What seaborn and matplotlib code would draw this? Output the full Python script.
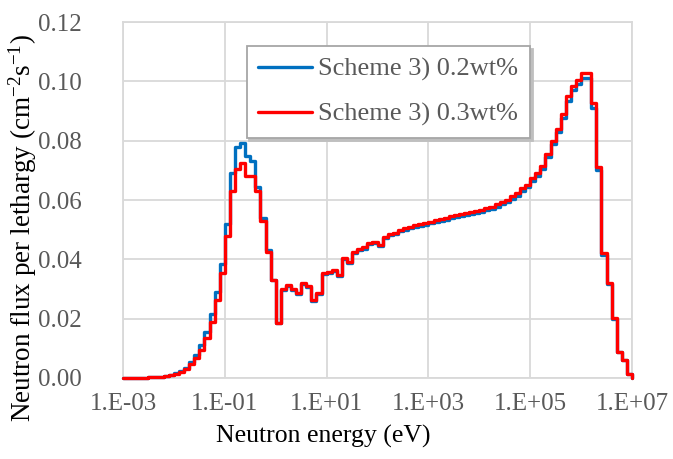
import numpy as np
import pandas as pd
import matplotlib
matplotlib.use("Agg")
import matplotlib.pyplot as plt
import seaborn as sns
from matplotlib.ticker import FuncFormatter, FixedLocator, NullLocator

# 100 equal-lethargy energy groups, 1e-3 eV .. 1e7 eV
group_edges = np.logspace(-3, 7, 101)

series_names = ["Scheme 3) 0.2wt%", "Scheme 3) 0.3wt%"]

flux_02 = [
    0.0, 0.0, 0.0, 0.0, 0.0001, 0.0002, 0.0003, 0.0005, 0.0007, 0.0011,
    0.0016, 0.0025, 0.0035, 0.0054, 0.0078, 0.0110, 0.0155, 0.0215, 0.0290, 0.0385,
    0.0520, 0.0690, 0.0778, 0.0793, 0.0750, 0.0732, 0.0645, 0.0540, 0.0430, 0.0332,
    0.0185, 0.0298, 0.0310, 0.0297, 0.0284, 0.0317, 0.0307, 0.0259, 0.0282, 0.0350,
    0.0353, 0.0361, 0.0343, 0.0400, 0.0386, 0.0421, 0.0431, 0.0436, 0.0451, 0.0454,
    0.0446, 0.0471, 0.0481, 0.0486, 0.0494, 0.0500, 0.0505, 0.0510, 0.0514, 0.0517,
    0.0521, 0.0525, 0.0529, 0.0534, 0.0538, 0.0542, 0.0546, 0.0550, 0.0553, 0.0556,
    0.0561, 0.0565, 0.0571, 0.0578, 0.0585, 0.0594, 0.0604, 0.0614, 0.0631, 0.0643,
    0.0665, 0.0680, 0.0706, 0.0744, 0.0788, 0.0828, 0.0876, 0.0935, 0.0970, 0.0990,
    0.1010, 0.1010, 0.0910, 0.0700, 0.0415, 0.0316, 0.0200, 0.0087, 0.0059, 0.0015,
]

flux_03 = [
    0.0, 0.0, 0.0, 0.0, 0.0001, 0.0002, 0.0003, 0.0004, 0.0006, 0.0009,
    0.0014, 0.0021, 0.0030, 0.0046, 0.0066, 0.0096, 0.0135, 0.0190, 0.0262, 0.0355,
    0.0480, 0.0630, 0.0705, 0.0724, 0.0680, 0.0682, 0.0630, 0.0530, 0.0425, 0.0330,
    0.0185, 0.0300, 0.0313, 0.0300, 0.0287, 0.0320, 0.0310, 0.0263, 0.0286, 0.0354,
    0.0357, 0.0365, 0.0347, 0.0404, 0.0390, 0.0425, 0.0435, 0.0440, 0.0455, 0.0458,
    0.0450, 0.0475, 0.0485, 0.0490, 0.0499, 0.0505, 0.0510, 0.0515, 0.0519, 0.0522,
    0.0527, 0.0531, 0.0535, 0.0540, 0.0545, 0.0549, 0.0553, 0.0557, 0.0560, 0.0563,
    0.0568, 0.0572, 0.0578, 0.0585, 0.0592, 0.0601, 0.0612, 0.0622, 0.0640, 0.0652,
    0.0674, 0.0690, 0.0716, 0.0755, 0.0800, 0.0840, 0.0890, 0.0950, 0.0985, 0.1005,
    0.1028, 0.1028, 0.0927, 0.0711, 0.0421, 0.0320, 0.0202, 0.0088, 0.0060, 0.0015,
]

x_ticks = [1e-3, 1e-1, 1e1, 1e3, 1e5, 1e7]
y_ticks = [0.00, 0.02, 0.04, 0.06, 0.08, 0.10, 0.12]

# long table for seaborn, last edge closes the step down to 0
rows = []
for name, flux in zip(series_names, [flux_02, flux_03]):
    vals = list(flux) + [0.0]
    for e, v in zip(group_edges, vals):
        rows.append({"energy": e, "flux": v, "series": name})
df = pd.DataFrame(rows)

sns.set_style("white")
plt.rcParams["font.family"] = ["Liberation Serif", "DejaVu Serif"]
plt.rcParams["mathtext.fontset"] = "custom"
plt.rcParams["mathtext.rm"] = "Liberation Serif"
plt.rcParams["mathtext.it"] = "Liberation Serif:italic"

fig = plt.figure(figsize=(6.73, 4.59), dpi=100)
ax = fig.add_axes([0.1828, 0.1765, 0.7563, 0.7755])

sns.lineplot(
    data=df, x="energy", y="flux", hue="series",
    hue_order=series_names,
    palette=["#0070C0", "#FF0000"],
    drawstyle="steps-post", linewidth=2.4,
    estimator=None, sort=False, ax=ax,
)
for i, ln in enumerate(ax.get_lines()):
    ln.set_clip_on(False)
    ln.set_zorder(3 + i)

ax.set_xscale("log")
ax.set_xlim(1e-3, 1e7)
ax.set_ylim(0, 0.12)
ax.xaxis.set_major_locator(FixedLocator(x_ticks))
ax.xaxis.set_minor_locator(NullLocator())
ax.xaxis.set_major_formatter(FuncFormatter(lambda v, p: "1.E%+03d" % int(round(np.log10(v)))))
ax.set_yticks(y_ticks)
ax.yaxis.set_major_formatter(FuncFormatter(lambda v, p: "%.2f" % v))

ax.grid(True, color="#D9D9D9", linewidth=1.3)
ax.set_axisbelow(True)
for s in ax.spines.values():
    s.set_color("#D9D9D9")
    s.set_linewidth(1.3)

ax.tick_params(axis="both", length=0, labelsize=18, labelcolor="#595959")
ax.tick_params(axis="y", pad=30)
ax.tick_params(axis="x", pad=11)

ax.set_xlabel("Neutron energy (eV)", fontsize=18.5, color="black")
ax.xaxis.set_label_coords(0.393, -0.133)
ax.set_ylabel("Neutron flux per lethargy (cm$^{-2}$s$^{-1}$)", fontsize=19.5,
              color="black")
ax.yaxis.set_label_coords(-0.166, 0.421)

leg = ax.legend(
    loc="upper left", bbox_to_anchor=(0.243, 0.933), borderaxespad=0,
    fontsize=19, frameon=True, fancybox=False, handlelength=2.05,
    labelspacing=0.8, borderpad=0.44, handletextpad=0.22,
    shadow={"ox": 2, "oy": -2, "color": "#BFBFBF", "alpha": 1.0},
)
leg.get_frame().set_edgecolor("#A6A6A6")
leg.get_frame().set_linewidth(1.3)
for t in leg.get_texts():
    t.set_color("#595959")
for h in leg.get_lines():
    h.set_linewidth(2.4)

plt.savefig("out.png", dpi=100)
plt.close()
